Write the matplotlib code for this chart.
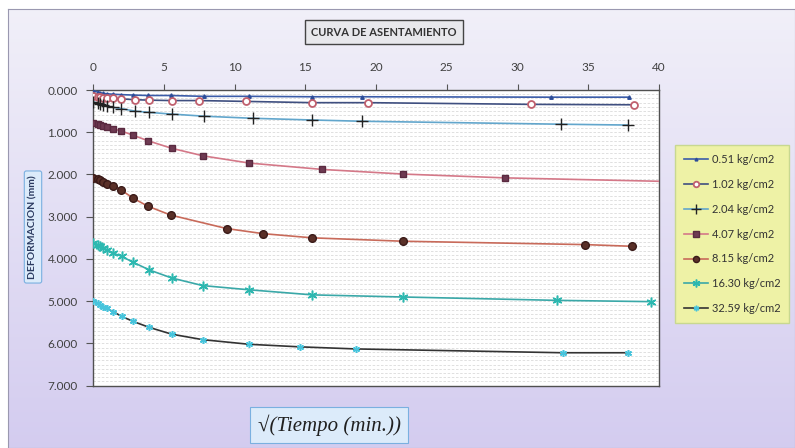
import numpy as np
import matplotlib
matplotlib.use('Agg')
import matplotlib.pyplot as plt

# sqrt(time) readings and deformations (mm) per load
x_051 = [0, 0.32, 0.5, 0.71, 1.0, 1.41, 2.0, 2.83, 3.87, 5.48, 7.84, 11.0, 15.5, 19.0, 32.4, 37.9]
y_051 = [0.00, 0.05, 0.07, 0.08, 0.09, 0.10, 0.11, 0.12, 0.13, 0.13, 0.15, 0.15, 0.16, 0.16, 0.17, 0.17]

x_102 = [0, 0.32, 0.5, 0.71, 1.0, 1.41, 2.0, 2.97, 3.98, 5.56, 7.49, 10.8, 15.5, 19.46, 30.95, 38.2]
y_102 = [0.15, 0.16, 0.17, 0.18, 0.19, 0.20, 0.21, 0.23, 0.24, 0.25, 0.25, 0.27, 0.30, 0.30, 0.34, 0.35]

x_204 = [0, 0.32, 0.5, 0.71, 1.0, 1.41, 2.0, 2.97, 3.98, 5.56, 7.84, 11.3, 15.5, 19.0, 33.1, 37.8]
y_204 = [0.28, 0.31, 0.33, 0.36, 0.38, 0.41, 0.44, 0.50, 0.53, 0.57, 0.62, 0.67, 0.71, 0.74, 0.81, 0.83]

x_407 = [0, 0.32, 0.5, 0.71, 1.0, 1.41, 2.0, 2.83, 3.87, 5.56, 7.8, 11.05, 16.2, 21.9, 29.1, 48.0]
y_407 = [0.79, 0.81, 0.83, 0.85, 0.87, 0.92, 0.97, 1.07, 1.20, 1.38, 1.56, 1.73, 1.88, 1.99, 2.08, 2.22]

x_815 = [0, 0.32, 0.5, 0.71, 1.0, 1.41, 2.0, 2.83, 3.87, 5.48, 9.45, 12.0, 15.5, 21.9, 34.8, 38.1]
y_815 = [2.08, 2.11, 2.14, 2.18, 2.22, 2.27, 2.37, 2.56, 2.75, 2.96, 3.28, 3.40, 3.50, 3.58, 3.66, 3.70]

x_1630 = [0, 0.32, 0.5, 0.71, 0.97, 1.44, 2.03, 2.85, 3.98, 5.56, 7.75, 11.05, 15.5, 21.9, 32.8, 39.4]
y_1630 = [3.62, 3.66, 3.70, 3.74, 3.78, 3.86, 3.94, 4.08, 4.26, 4.45, 4.63, 4.73, 4.85, 4.90, 4.98, 5.01]

x_3259 = [0, 0.32, 0.5, 0.71, 0.97, 1.44, 2.03, 2.85, 3.98, 5.56, 7.75, 11.05, 14.6, 18.6, 33.2, 37.8]
y_3259 = [4.99, 5.04, 5.09, 5.13, 5.17, 5.25, 5.36, 5.48, 5.62, 5.78, 5.91, 6.02, 6.08, 6.13, 6.22, 6.22]

labels = ['0.51 kg/cm2', '1.02 kg/cm2', '2.04 kg/cm2', '4.07 kg/cm2',
          '8.15 kg/cm2', '16.30 kg/cm2', '32.59 kg/cm2']

plt.rcParams['font.family'] = ['Lato', 'DejaVu Sans']

fig = plt.figure(figsize=(7.95, 4.48), dpi=100)

# lavender gradient background of the chart area
bg = fig.add_axes([8/795, 0, 1 - 8/795, 1 - 9/448])
grad = np.linspace(0, 1, 256)[:, None] * np.ones((1, 256))
c_top = np.array([0.945, 0.94, 0.975])
c_bot = np.array([0.83, 0.80, 0.94])
img = c_top[None, None, :] * (1 - grad[:, :, None]) + c_bot[None, None, :] * grad[:, :, None]
bg.imshow(img, aspect='auto', extent=[0, 1, 0, 1])
bg.set_xticks([])
bg.set_yticks([])
for s in bg.spines.values():
    s.set_color('#9a98b0')
    s.set_linewidth(0.8)

ax = fig.add_axes([93/795, 1 - 385.7/448, 566/795, (385.7 - 90)/448])
ax.set_facecolor('white')

ax.plot(x_051, y_051, color='#3b5ca8', lw=1.2, marker='^', ms=2.5, mfc='#2c4c98', mec='#2c4c98', label=labels[0], zorder=3)
ax.plot(x_102, y_102, color='#3f4f80', lw=1.2, marker='o', ms=5, mfc='white', mec='#c0606e', mew=1.3, label=labels[1], zorder=3)
ax.plot(x_204, y_204, color='#62a6cc', lw=1.2, marker='+', ms=9, mec='#222222', mew=1.0, label=labels[2], zorder=3)
ax.plot(x_407, y_407, color='#d47888', lw=1.2, marker='s', ms=5, mfc='#6e3a52', mec='#5a2a40', label=labels[3], zorder=3)
ax.plot(x_815, y_815, color='#c86a5a', lw=1.2, marker='o', ms=5.5, mfc='#5a3028', mec='#3a1a18', label=labels[4], zorder=3)
ax.plot(x_1630, y_1630, color='#3aa8a8', lw=1.2, marker=(6, 2, 0), ms=7, mec='#2cb8b0', mew=1.1, label=labels[5], zorder=3)
ax.plot(x_3259, y_3259, color='#333333', lw=1.2, marker=(6, 2, 0), ms=5, mec='#46c4dc', mew=1.1, label=labels[6], zorder=3)

ax.set_xlim(0, 40)
ax.set_ylim(7, 0)
ax.xaxis.tick_top()
ax.set_xticks(np.arange(0, 41, 5))
ax.set_yticks(np.arange(0, 8, 1))
ax.set_yticklabels(['%.3f' % v for v in np.arange(0, 8, 1)])
ax.set_yticks(np.arange(0, 7.01, 0.1), minor=True)
ax.tick_params(axis='x', which='major', direction='out', length=4, color='#555555',
               labelsize=8.5, labelcolor='#404040', pad=8)
ax.tick_params(axis='y', which='major', direction='out', length=5, color='#555555',
               labelsize=8.5, labelcolor='#404040', pad=6)
ax.tick_params(axis='y', which='minor', length=0)
ax.grid(True, axis='y', which='both', color='#dadada', lw=0.6, ls=(0, (3, 2)))
ax.set_axisbelow(True)
for s in ax.spines.values():
    s.set_color('#505050')
    s.set_linewidth(1.0)

# title box
fig.text(384/795, 1 - 32/448, 'CURVA DE ASENTAMIENTO', ha='center', va='center',
         fontsize=8, fontweight='bold', color='#333333',
         bbox=dict(boxstyle='square,pad=0.55', fc='#e8e8ec', ec='#444444', lw=1.0))

# y label box
fig.text(33/795, 1 - 227/448, 'DEFORMACION (mm)', ha='center', va='center', rotation=90,
         fontsize=7.5, fontweight='bold', color='#2a3a60',
         bbox=dict(boxstyle='round,pad=0.4,rounding_size=0.2', fc='#dcebfa', ec='#7ab0e0', lw=0.8))

# x label box
fig.text(329/795, 1 - 425/448, '\u221a(Tiempo (min.))', ha='center', va='center',
         fontsize=15, fontstyle='italic', family=['Liberation Serif', 'DejaVu Serif'], color='#202020',
         bbox=dict(boxstyle='square,pad=0.35', fc='#dcebfa', ec='#7ab0e0', lw=0.8))

leg = ax.legend(loc='upper left', bbox_to_anchor=(675/795, 1 - 145/448), bbox_transform=fig.transFigure,
                fontsize=8, frameon=True, fancybox=False, handlelength=2.2, handletextpad=0.3,
                labelspacing=1.25, borderpad=0.8, borderaxespad=0, markerscale=0.8)
leg.get_frame().set_facecolor('#eef2a6')
leg.get_frame().set_edgecolor('#c8d890')
leg.get_frame().set_alpha(1)
for t in leg.get_texts():
    t.set_color('#333333')

fig.savefig('out.png', dpi=100)
